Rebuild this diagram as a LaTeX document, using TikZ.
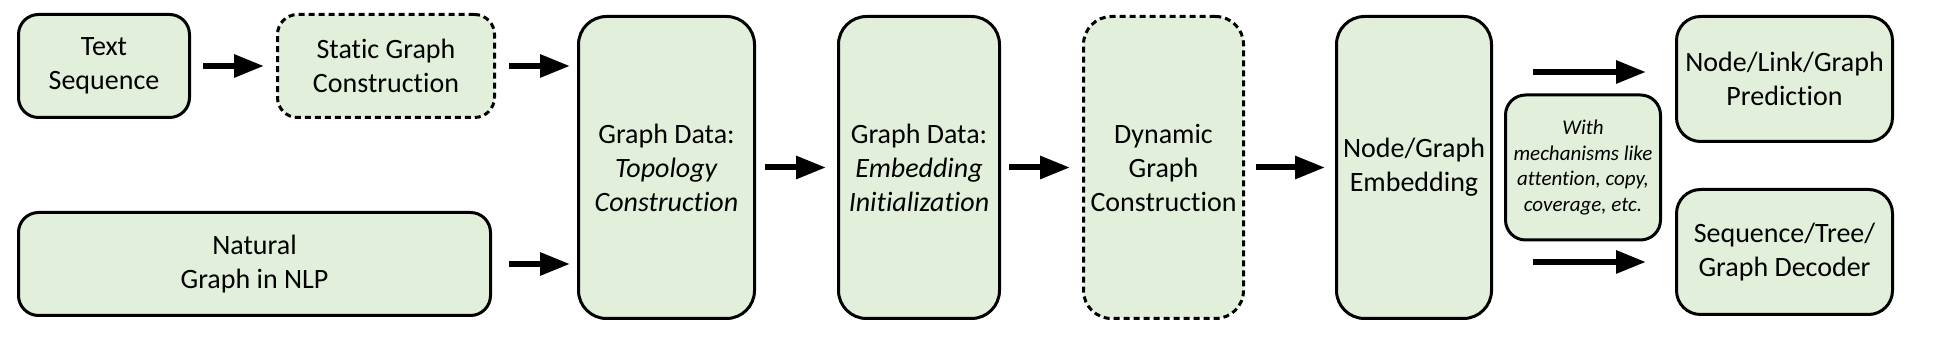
\documentclass[tikz,border=0pt]{standalone}
\usepackage{fontspec}
\setmainfont{Carlito}[Ligatures=NoCommon]
\usepackage{tikz}
\usetikzlibrary{arrows.meta, positioning}
\definecolor{boxgreen}{HTML}{E2EFDA}

\begin{document}
\begin{tikzpicture}[x=0.5pt, y=-0.5pt, node distance=40.5pt,
  block/.style={rectangle, draw, line width=1.5pt, rounded corners=10pt, fill=boxgreen, inner sep=2pt, font=\fontsize{14}{17}\selectfont, align=center},
  tallblock/.style={block, rounded corners=14pt, minimum height=151pt},
  dashblock/.style={dash pattern=on 3pt off 2pt},
  arrow/.style={-{Triangle[length=15pt, width=11pt]}, line width=3pt}]
\useasboundingbox (0,0) rectangle (1940,346);

% inputs
\node[block, minimum width=85.5pt, minimum height=51.5pt] (ts) at (104,66) {Text\\Sequence};
\node[block, dashblock, minimum width=108.5pt, minimum height=51.5pt, right=42.5pt of ts] (sgc) {Static Graph\\Construction};
\node[block, minimum width=236pt, minimum height=51.5pt, below right=46pt and 0pt of ts.south west] (nat) {Natural\\Graph in NLP};
\draw[arrow, shorten <=6pt, shorten >=6pt] (ts) -- (sgc);

% main row
\node[tallblock, minimum width=88pt] (topo) at (666.5,167.5) {Graph Data:\\\textit{Topology}\\\textit{Construction}};
\node[tallblock, minimum width=80.5pt, right=of topo] (init) {Graph Data:\\\textit{Embedding}\\\textit{Initialization}};
\node[tallblock, dashblock, minimum width=80pt, right=of init] (dyn) {Dynamic\\Graph\\Construction};
\node[tallblock, minimum width=77.5pt, right=45pt of dyn] (nge) {Node/Graph\\Embedding};
\draw[arrow, shorten <=6.5pt, shorten >=3.5pt] (sgc.east) -- (sgc.east -| topo.west);
\draw[arrow, shorten <=8.5pt, shorten >=3.5pt] (nat.east) -- (nat.east -| topo.west);
\draw[arrow, shorten <=4.5pt, shorten >=5.5pt] (topo) -- (init);
\draw[arrow, shorten <=4pt, shorten >=6pt] (init) -- (dyn);
\draw[arrow, shorten <=5.5pt, shorten >=5pt] (dyn) -- (nge);

% outputs
\node[block, minimum width=77.5pt, minimum height=72.5pt, right=5.5pt of nge, font=\fontsize{10.5}{12.8}\selectfont\itshape] (mech) {With\\mechanisms like\\attention, copy,\\coverage, etc.};
\node[block, rounded corners=12pt, minimum width=108pt, minimum height=62.5pt] (pred) at (1784.5,79) {Node/Link/Graph\\Prediction};
\node[block, rounded corners=12pt, minimum width=108pt, minimum height=62.5pt, below=22.5pt of pred] (dec) {Sequence/Tree/\\Graph Decoder};
\coordinate (predin) at ([yshift=3.5pt]pred.west);
\coordinate (decin) at ([yshift=-5pt]dec.west);
\draw[arrow, shorten <=20pt, shorten >=14.5pt] (predin -| nge.east) -- (predin);
\draw[arrow, shorten <=20pt, shorten >=14.5pt] (decin -| nge.east) -- (decin);
\end{tikzpicture}
\end{document}
